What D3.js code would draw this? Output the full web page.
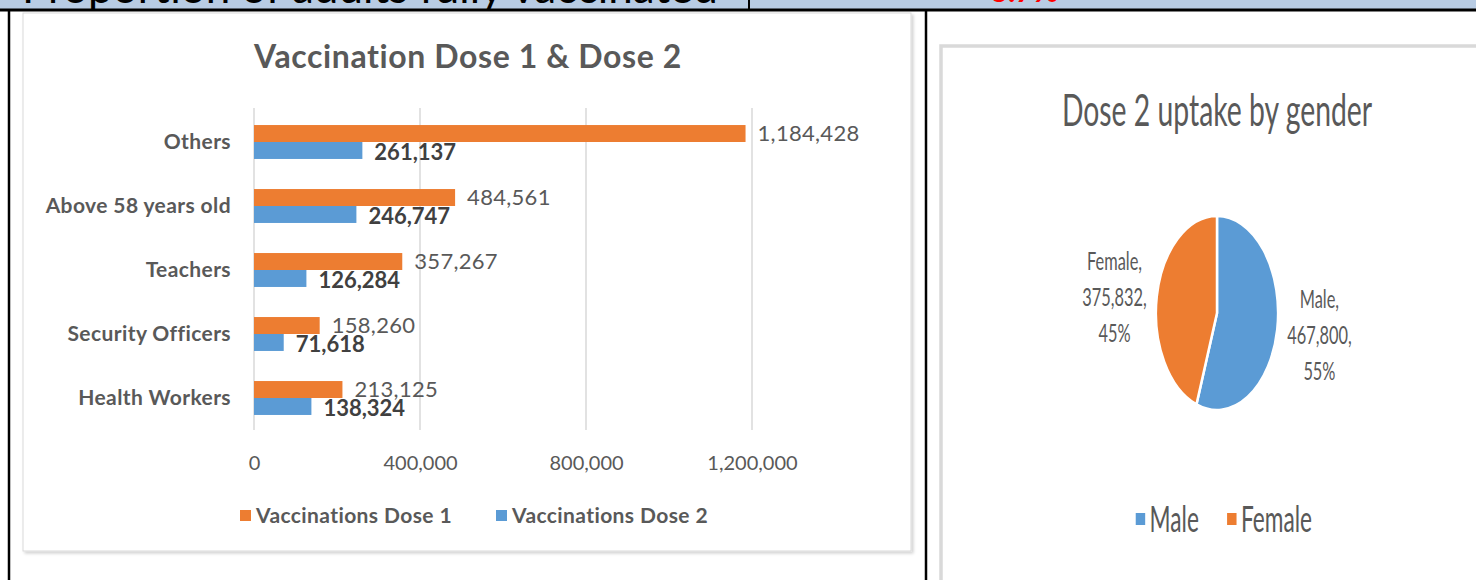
<!DOCTYPE html>
<html>
<head>
<meta charset="utf-8">
<script src="https://cdn.jsdelivr.net/npm/d3@7"></script>
<style>
  body { margin: 0; background: #fff; }
  svg { display: block; font-family: Lato, "Open Sans", sans-serif; }
</style>
</head>
<body>
<div id="chart"></div>
<script>
// bar chart data
const groups = ["Others", "Above 58 years old", "Teachers", "Security Officers", "Health Workers"];
const dose1 = [1184428, 484561, 357267, 158260, 213125];
const dose2 = [261137, 246747, 126284, 71618, 138324];
const seriesNames = ["Vaccinations Dose 1", "Vaccinations Dose 2"];
const xTicks = [0, 400000, 800000, 1200000];

// pie data
const genders = ["Male", "Female"];
const genderDose2 = [467800, 375832];
const genderShare = ["55%", "45%"];

const orange = "#ED7D31", blue = "#5B9BD5";
const fmt = d3.format(",");

const W = 1476, H = 580;
const svg = d3.select("#chart").append("svg")
    .attr("width", W)
    .attr("height", H);

const defs = svg.append("defs");
const shadow = defs.append("filter").attr("id", "shadow")
    .attr("x", "-2%").attr("y", "-2%").attr("width", "104%").attr("height", "104%");
shadow.append("feDropShadow").attr("dx", 2).attr("dy", 2).attr("stdDeviation", 1.5)
    .attr("flood-color", "#000").attr("flood-opacity", 0.18);

// table header row (cut off at the top)
svg.append("rect").attr("x", 0).attr("y", 0).attr("width", W).attr("height", 10).attr("fill", "#b8cce4");
svg.append("text")
    .attr("x", 22).attr("y", 3)
    .attr("font-size", 44)
    .attr("fill", "#000")
    .text("Proportion of adults fully vaccinated");
svg.append("text")
    .attr("x", 990).attr("y", 2)
    .attr("font-size", 31)
    .attr("font-weight", 700)
    .attr("fill", "#ff0000")
    .text("6.7%");
svg.append("line").attr("x1", 749).attr("x2", 749).attr("y1", 0).attr("y2", 10)
    .attr("stroke", "#000").attr("stroke-width", 2);
svg.append("line").attr("x1", 0).attr("x2", W).attr("y1", 10).attr("y2", 10)
    .attr("stroke", "#000").attr("stroke-width", 3);
svg.append("line").attr("x1", 9).attr("x2", 9).attr("y1", 10).attr("y2", H)
    .attr("stroke", "#000").attr("stroke-width", 2.5);
svg.append("line").attr("x1", 926).attr("x2", 926).attr("y1", 10).attr("y2", H)
    .attr("stroke", "#000").attr("stroke-width", 2.5);

// ---------- bar chart ----------
svg.append("rect")
    .attr("x", 23).attr("y", 13).attr("width", 888).attr("height", 538)
    .attr("fill", "#fff").attr("stroke", "#d9d9d9").attr("stroke-width", 1)
    .attr("filter", "url(#shadow)");

const bar = svg.append("g");

bar.append("text")
    .attr("x", 468).attr("y", 68)
    .attr("text-anchor", "middle")
    .attr("font-size", 32)
    .attr("font-weight", 700)
    .attr("letter-spacing", 0.6)
    .attr("fill", "#595959")
    .text("Vaccination Dose 1 & Dose 2");

const x = d3.scaleLinear().domain([0, 1200000]).range([254, 752]);
const y = d3.scaleBand().domain(groups).range([110, 430]).paddingInner(0.47).paddingOuter(0.235);
const sub = d3.scaleBand().domain([0, 1]).range([0, y.bandwidth()]);

// gridlines
bar.append("g").selectAll("line")
    .data(xTicks)
    .join("line")
    .attr("x1", d => x(d)).attr("x2", d => x(d))
    .attr("y1", 108).attr("y2", 430)
    .attr("stroke", "#d9d9d9").attr("stroke-width", 1.5);

// x axis labels
const xAxis = bar.append("g")
    .attr("transform", "translate(0,463)")
    .call(d3.axisBottom(x).tickValues(xTicks).tickFormat(fmt).tickSize(0).tickPadding(0));
xAxis.select(".domain").remove();
xAxis.selectAll("text")
    .attr("dy", "0.35em")
    .attr("font-family", "Lato, sans-serif")
    .attr("font-size", 20)
    .attr("fill", "#595959");

// category labels
const yAxis = bar.append("g")
    .attr("transform", "translate(231,0)")
    .call(d3.axisLeft(y).tickSize(0).tickPadding(0));
yAxis.select(".domain").remove();
yAxis.selectAll("text")
    .attr("font-family", "Lato, sans-serif")
    .attr("font-size", 21)
    .attr("font-weight", 700)
    .attr("letter-spacing", 0.4)
    .attr("fill", "#595959");

const rows = groups.map((g, i) => ({ g, d1: dose1[i], d2: dose2[i] }));

// dose 1 bars
bar.append("g").selectAll("rect")
    .data(rows)
    .join("rect")
    .attr("x", x(0))
    .attr("y", d => y(d.g) + sub(0))
    .attr("width", d => x(d.d1) - x(0))
    .attr("height", sub.bandwidth())
    .attr("fill", orange);

// dose 2 bars
bar.append("g").selectAll("rect")
    .data(rows)
    .join("rect")
    .attr("x", x(0))
    .attr("y", d => y(d.g) + sub(1))
    .attr("width", d => x(d.d2) - x(0))
    .attr("height", sub.bandwidth())
    .attr("fill", blue);

// value labels
bar.append("g").selectAll("text")
    .data(rows)
    .join("text")
    .attr("x", d => x(d.d1) + 12)
    .attr("y", d => y(d.g) + sub(0) + sub.bandwidth() / 2)
    .attr("dy", "0.35em")
    .attr("font-size", 22)
    .attr("letter-spacing", 0.3)
    .attr("fill", "#595959")
    .text(d => fmt(d.d1));

bar.append("g").selectAll("text")
    .data(rows)
    .join("text")
    .attr("x", d => x(d.d2) + 12)
    .attr("y", d => y(d.g) + sub(1) + sub.bandwidth() / 2 + 2)
    .attr("dy", "0.35em")
    .attr("font-size", 22)
    .attr("font-weight", 700)
    .attr("fill", "#404040")
    .text(d => fmt(d.d2));

// legend
const legendX = [240, 496];
const legend = bar.append("g").selectAll("g")
    .data(seriesNames)
    .join("g")
    .attr("transform", (d, i) => `translate(${legendX[i]},516)`);
legend.append("rect")
    .attr("x", 0).attr("y", -6).attr("width", 11).attr("height", 11)
    .attr("fill", (d, i) => i === 0 ? orange : blue);
legend.append("text")
    .attr("x", 16).attr("dy", "0.35em")
    .attr("font-size", 21)
    .attr("font-weight", 700)
    .attr("letter-spacing", 0.4)
    .attr("fill", "#595959")
    .text(d => d);

// ---------- pie chart ----------
svg.append("rect")
    .attr("x", 941).attr("y", 46).attr("width", 600).attr("height", 600)
    .attr("fill", "#fff").attr("stroke", "#d9d9d9").attr("stroke-width", 3.5);

// the pie panel is squeezed horizontally in the picture
const squeeze = 0.63;
const pieG = svg.append("g").attr("transform", `translate(1217,0) scale(${squeeze},1)`);

pieG.append("text")
    .attr("x", 0).attr("y", 126)
    .attr("text-anchor", "middle")
    .attr("font-size", 45)
    .attr("fill", "#595959")
    .text("Dose 2 uptake by gender");

const cy = 313, R = 97;
const pie = d3.pie().sort(null)(genderDose2);
const arc = d3.arc().innerRadius(0).outerRadius(R);

const slices = pieG.append("g").attr("transform", `translate(0,${cy})`);
slices.selectAll("path")
    .data(pie)
    .join("path")
    .attr("d", arc)
    .attr("fill", (d, i) => i === 0 ? blue : orange)
    .attr("stroke", "#fff")
    .attr("stroke-width", 2.5)
    .attr("vector-effect", "non-scaling-stroke");

const labels = pieG.append("g").selectAll("text")
    .data(pie)
    .join("text")
    .attr("text-anchor", "middle")
    .attr("font-size", 26)
    .attr("fill", "#595959")
    .attr("transform", d => {
        const a = (d.startAngle + d.endAngle) / 2;
        return `translate(${Math.sin(a) * 165},${cy + 3 - Math.cos(a) * 110})`;
    });
labels.each(function(d, i) {
    const lines = [genders[i] + ",", fmt(genderDose2[i]) + ",", genderShare[i]];
    d3.select(this).selectAll("tspan")
        .data(lines)
        .join("tspan")
        .attr("x", 0)
        .attr("y", (l, j) => (j - 1) * 36)
        .attr("dy", "0.35em")
        .text(l => l);
});

// pie legend
const pieLegendX = [-129, 16];
const pieLegend = pieG.append("g").selectAll("g")
    .data(genders)
    .join("g")
    .attr("transform", (d, i) => `translate(${pieLegendX[i]},519)`);
pieLegend.append("rect")
    .attr("x", 0).attr("y", -6).attr("width", 15).attr("height", 12)
    .attr("fill", (d, i) => i === 0 ? blue : orange);
pieLegend.append("text")
    .attr("x", 22).attr("dy", "0.35em")
    .attr("font-size", 36)
    .attr("fill", "#595959")
    .text(d => d);
</script>
</body>
</html>
